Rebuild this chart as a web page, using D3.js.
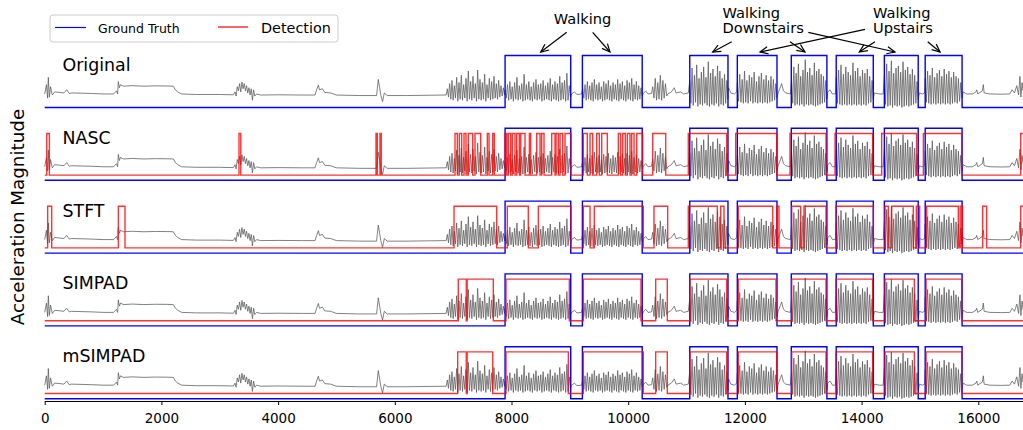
<!DOCTYPE html>
<html>
<head>
<meta charset="utf-8">
<script src="https://d3js.org/d3.v7.min.js"></script>
<style>
  body { margin: 0; background: #fff; }
  svg { font-family: "DejaVu Sans", sans-serif; }
</style>
</head>
<body>
<svg id="chart"></svg>
<script>
const width = 1023;
const height = 430;

// sample index range of the recording
const xMax = 16766;
const xTicks = [0, 2000, 4000, 6000, 8000, 10000, 12000, 14000, 16000];

const panelNames = ["Original", "NASC", "STFT", "SIMPAD", "mSIMPAD"];
const panelOffsets = [0, -7, -14, -21, -28];
const gtLevels = [0, 5];
const detLevels = [0.5, 4.5];

// labelled walking periods [start, end]
const groundTruth = [[7890, 9015], [9215, 10240], [11055, 11710], [11870, 12550],
  [12795, 13405], [13565, 14200], [14390, 14970], [15090, 15722]];

const nascDetections = [[35, 80], [3330, 3360], [5678, 5700], [5746, 5768],
  [7032, 7072], [7106, 7146], [7186, 7220], [7260, 7335], [7375, 7472], [7586, 7615], [7678, 7706],
  [7889, 7918], [7946, 7986], [8014, 8060], [8089, 8134], [8158, 8232], [8306, 8329], [8432, 8489],
  [8517, 8557], [8689, 8746], [8763, 8802], [8832, 8878], [8917, 9020],
  [9231, 9299], [9346, 9392], [9460, 9505], [9546, 9642], [9831, 9871], [9906, 9951], [9985, 10031],
  [10060, 10100], [10146, 10248], [10420, 10643], [11030, 11688], [11842, 12545], [12773, 13390],
  [13545, 14190], [14344, 14944], [15058, 15715], [16727, 16900]];

const stftDetections = [[51, 120], [1262, 1376], [7015, 7746], [7928, 8288], [8460, 9020],
  [9231, 9346], [9419, 10259], [10442, 10677], [11030, 11527], [11585, 11642], [11887, 12477],
  [12545, 12584], [12802, 12956], [13013, 13390], [13562, 14202], [14401, 14458], [14516, 14886],
  [14938, 14995], [15115, 15657], [15690, 15730], [16075, 16143], [16727, 16900]];

const simpadDetections = [[7088, 7225], [7240, 7688], [7906, 8991], [9231, 10219], [10471, 10670],
  [11059, 11688], [11887, 12533], [12802, 13390], [13562, 14190], [14401, 14904], [15105, 15715]];

const msimpadDetections = [[7078, 7225], [7240, 7678], [7906, 8974], [9231, 10259], [10471, 10670],
  [11059, 11688], [11887, 12545], [12802, 13390], [13562, 14190], [14401, 14904], [15105, 15715]];

const panelDetections = [null, nascDetections, stftDetections, simpadDetections, msimpadDetections];

// acceleration magnitude, quiet stretches [sample, value]
const quietTrace = [[0, 1.3], [30, 2.2], [50, 0.9], [62, 2.9], [80, 1.0], [100, 2.0], [130, 1.2],
  [170, 1.5], [263, 1.45], [330, 1.4], [377, 1.7], [420, 1.35], [460, 1.4], [800, 1.35], [1000, 1.3],
  [1180, 1.3], [1230, 1.6], [1250, 1.3], [1262, 2.5], [1280, 1.9], [1300, 2.2], [1347, 2.05],
  [1500, 2.1], [1700, 2.05], [1900, 2.08], [2100, 2.07], [2205, 2.05], [2240, 1.7], [2280, 1.5],
  [2347, 1.3], [2600, 1.25], [3000, 1.25], [3233, 1.22], [3262, 1.5], [3280, 1.1], [3300, 2.0],
  [3320, 1.6], [3340, 2.3], [3360, 1.5], [3380, 2.45], [3400, 1.8], [3420, 2.3], [3440, 1.6],
  [3460, 2.1], [3480, 1.4], [3500, 1.9], [3520, 1.2], [3540, 1.8], [3560, 0.7], [3580, 1.7],
  [3600, 1.1], [3633, 1.3], [3700, 1.2], [4000, 1.22], [4400, 1.2], [4633, 1.2], [4660, 1.7],
  [4690, 2.16], [4710, 1.7], [4760, 1.8], [4800, 1.45], [4900, 1.4], [5000, 1.2], [5400, 1.15],
  [5689, 1.15], [5700, 1.8], [5717, 2.7], [5740, 1.9], [5760, 1.2], [5790, 0.56], [5820, 1.4],
  [5870, 1.15], [6200, 1.15], [6600, 1.18], [6880, 1.2],
  [9030, 1.3], [9080, 1.5], [9120, 1.25], [9200, 1.3],
  [10260, 1.35], [10300, 1.6], [10340, 1.3], [10400, 1.35],
  [10680, 1.3], [10740, 1.5], [10790, 1.9], [10820, 1.4], [10900, 1.5], [10950, 1.3], [11030, 1.4],
  [11720, 1.9], [11760, 1.4], [11820, 1.3], [11860, 1.5],
  [12570, 1.4], [12610, 2.0], [12630, 2.3], [12660, 1.6], [12700, 1.4], [12780, 1.3],
  [13420, 1.5], [13460, 1.7], [13500, 1.3], [13550, 1.3],
  [14220, 1.4], [14300, 1.3], [14370, 1.3],
  [14990, 1.4], [15040, 1.3], [15080, 1.4],
  [15740, 1.5], [15800, 1.3], [15900, 1.3], [15960, 1.5], [15973, 1.7], [15990, 1.3], [16070, 1.6],
  [16086, 2.2], [16100, 1.4], [16200, 1.3], [16400, 1.28], [16540, 1.3], [16580, 1.7], [16620, 1.4],
  [16660, 2.1], [16690, 1.2], [16714, 3.0], [16730, 1.0], [16750, 2.4], [16766, 1.6]];

// active stretches: span and evenly sampled peak / trough values
const burstSpans = [[6900, 7880], [7890, 9010], [9220, 10240], [10420, 10660], [11055, 11710],
  [11870, 12550], [12800, 13405], [13565, 14200], [14390, 14970], [15090, 15720]];
const burstValues = [
  [1.8, 1.0, 2.3, 0.8, 2.6, 0.7, 2.1, 0.9, 2.9, 0.6, 2.4, 0.8, 3.1, 0.7, 2.2, 0.9, 2.8, 0.6, 3.5, 0.8,
   2.5, 0.7, 3.0, 0.9, 2.3, 0.6, 3.6, 0.8, 2.7, 0.7, 2.4, 0.8, 3.2, 0.6, 2.2, 0.9, 2.8, 0.7, 2.5, 0.8,
   3.0, 0.9, 2.3, 0.8, 2.6, 1.0, 2.1, 1.1, 1.9, 1.2],
  [1.7, 0.9, 2.2, 0.7, 2.5, 0.8, 2.0, 0.6, 2.4, 0.8, 2.9, 0.7, 2.1, 0.8, 2.3, 0.6, 3.2, 0.7, 2.2, 0.8,
   2.5, 0.7, 2.0, 0.6, 2.4, 0.8, 2.7, 0.7, 2.2, 0.8, 2.3, 0.6, 2.6, 0.7, 2.1, 0.8, 2.4, 0.7, 2.8, 0.6,
   2.2, 0.8, 2.5, 0.7, 2.3, 0.6, 3.0, 0.7, 2.4, 0.8, 2.6, 0.6, 3.3, 0.7, 2.1, 1.0],
  [1.8, 0.9, 2.2, 0.7, 2.5, 0.8, 2.1, 0.7, 2.4, 0.6, 2.7, 0.8, 2.2, 0.7, 2.4, 0.8, 2.0, 0.6, 2.5, 0.7,
   2.3, 0.8, 2.6, 0.7, 2.1, 0.6, 2.4, 0.8, 2.2, 0.7, 2.7, 0.6, 2.3, 0.8, 2.5, 0.7, 2.1, 0.6, 2.6, 0.8,
   2.4, 0.7, 2.8, 0.6, 2.2, 0.8, 2.5, 0.7, 2.1, 0.8, 1.9, 1.1],
  [2.0, 0.9, 2.8, 0.7, 2.4, 0.8, 3.1, 0.7, 2.6, 0.9, 2.3, 1.1],
  [2.6, 0.4, 3.8, 0.2, 3.1, 0.5, 4.1, 0.1, 2.8, 0.3, 3.4, 0.2, 3.9, 0.4, 2.9, 0.2, 4.4, 0.1, 3.3, 0.3,
   3.7, 0.2, 3.0, 0.4, 4.0, 0.1, 3.5, 0.3, 2.8, 0.2, 3.2, 0.4, 2.6, 0.8],
  [2.4, 0.6, 3.2, 0.5, 2.7, 0.4, 3.5, 0.5, 2.6, 0.4, 3.1, 0.6, 2.9, 0.4, 3.4, 0.5, 2.5, 0.4, 3.0, 0.5,
   3.3, 0.4, 2.7, 0.5, 3.1, 0.4, 2.6, 0.5, 3.0, 0.6, 2.7, 0.7, 2.3, 0.9],
  [2.7, 0.4, 3.9, 0.2, 3.3, 0.3, 4.2, 0.2, 3.0, 0.3, 3.6, 0.1, 4.6, 0.3, 3.4, 0.2, 3.8, 0.3, 3.1, 0.2,
   4.3, 0.1, 3.5, 0.2, 3.7, 0.3, 3.2, 0.4, 3.0, 0.5, 2.6, 0.8],
  [2.9, 0.4, 3.6, 0.3, 4.1, 0.2, 3.2, 0.3, 3.9, 0.2, 3.4, 0.3, 3.1, 0.2, 4.3, 0.3, 3.5, 0.2, 3.8, 0.3,
   3.0, 0.2, 3.6, 0.3, 3.3, 0.2, 3.7, 0.4, 3.0, 0.5, 2.6, 0.8],
  [3.0, 0.3, 4.2, 0.1, 3.5, 0.2, 4.5, 0.0, 3.3, 0.2, 3.8, 0.1, 4.0, 0.2, 3.4, 0.0, 4.4, 0.1, 3.6, 0.2,
   3.9, 0.1, 3.2, 0.2, 3.7, 0.3, 3.1, 0.4, 2.5, 0.8],
  [2.8, 0.5, 3.5, 0.4, 3.1, 0.3, 3.8, 0.4, 2.9, 0.3, 3.3, 0.4, 3.6, 0.3, 3.0, 0.4, 3.7, 0.3, 3.2, 0.4,
   3.5, 0.3, 2.9, 0.4, 3.4, 0.5, 3.0, 0.4, 2.8, 0.6, 2.4, 0.9]
];

const x = d3.scaleLinear().domain([0, xMax]).range([44.7, 1023]);
const y = d3.scaleLinear().domain([-28, 5]).range([398.7, 55.5]);

const svg = d3.select('#chart')
    .attr('width', width)
    .attr('height', height);

svg.append('rect').attr('width', width).attr('height', height).attr('fill', '#fff');

svg.append('defs').append('marker')
    .attr('id', 'arrow')
    .attr('viewBox', '-10 -6 12 12')
    .attr('markerWidth', 12)
    .attr('markerHeight', 12)
    .attr('markerUnits', 'userSpaceOnUse')
    .attr('refX', 0)
    .attr('refY', 0)
    .attr('orient', 'auto')
    .append('path')
        .attr('d', 'M-8,-3.6L0,0L-8,3.6')
        .attr('fill', 'none')
        .attr('stroke', '#000')
        .attr('stroke-width', 1.2);

// build the signal trace
let signal = quietTrace.slice();
burstSpans.forEach((span, i) => {
    const vals = burstValues[i];
    const step = (span[1] - span[0]) / (vals.length - 1);
    vals.forEach((v, j) => signal.push([span[0] + j * step, v]));
});
signal.sort((a, b) => a[0] - b[0]);

function stepPoints(intervals, lo, hi) {
    const pts = [[0, lo]];
    intervals.forEach(d => {
        pts.push([d[0], hi]);
        pts.push([d[1], lo]);
    });
    pts.push([xMax + 200, lo]);
    return pts;
}

panelNames.forEach((name, k) => {
    const off = panelOffsets[k];
    const g = svg.append('g').attr('class', 'panel');

    const sigLine = d3.line()
        .x(d => x(d[0]))
        .y(d => y(d[1] + off));

    g.append('path')
        .datum(signal)
        .attr('d', sigLine)
        .attr('fill', 'none')
        .attr('stroke', '#5a5a5a')
        .attr('stroke-opacity', 0.85)
        .attr('stroke-width', 0.9);

    const stepLine = d3.line()
        .x(d => x(d[0]))
        .y(d => y(d[1] + off))
        .curve(d3.curveStepAfter);

    g.append('path')
        .datum(stepPoints(groundTruth, gtLevels[0], gtLevels[1]))
        .attr('d', stepLine)
        .attr('fill', 'none')
        .attr('stroke', '#0000ff')
        .attr('stroke-width', 1.4);

    if (panelDetections[k]) {
        g.append('path')
            .datum(stepPoints(panelDetections[k], detLevels[0], detLevels[1]))
            .attr('d', stepLine)
            .attr('fill', 'none')
            .attr('stroke', '#ff0000')
            .attr('stroke-opacity', 0.8)
            .attr('stroke-width', 1.4);
    }

    g.append('text')
        .attr('x', 62.5)
        .attr('y', y(gtLevels[1] + off) + 15.5)
        .attr('font-size', '17.4px')
        .text(name);
});

// x axis
const xAxis = d3.axisBottom(x)
    .tickValues(xTicks)
    .tickFormat(d3.format('d'))
    .tickSize(4)
    .tickSizeOuter(0)
    .tickPadding(8);

const axisG = svg.append('g')
    .attr('transform', 'translate(0, 401)')
    .call(xAxis);
axisG.selectAll('text').attr('font-size', '13.5px').attr('font-family', '"DejaVu Sans", sans-serif').attr('fill', '#000');
axisG.select('.domain').attr('stroke', '#000');
axisG.selectAll('line').attr('stroke', '#000');

svg.append('text')
    .attr('transform', 'translate(24, 217) rotate(-90)')
    .attr('text-anchor', 'middle')
    .attr('font-size', '18.3px')
    .text('Acceleration Magnitude');

// legend
const legend = svg.append('g');
legend.append('rect')
    .attr('x', 50).attr('y', 15)
    .attr('width', 288).attr('height', 27)
    .attr('rx', 3)
    .attr('fill', '#fff')
    .attr('stroke', '#ccc');
legend.append('line')
    .attr('x1', 55).attr('x2', 86).attr('y1', 27.5).attr('y2', 27.5)
    .attr('stroke', '#0000ff').attr('stroke-width', 1.2);
legend.append('text')
    .attr('x', 98).attr('y', 33.2)
    .attr('font-size', '12.5px')
    .text('Ground Truth');
legend.append('line')
    .attr('x1', 218).attr('x2', 248).attr('y1', 27).attr('y2', 27)
    .attr('stroke', '#ff0000').attr('stroke-width', 1.2);
legend.append('text')
    .attr('x', 261).attr('y', 32.7)
    .attr('font-size', '14.4px')
    .text('Detection');

// annotations
const ann = svg.append('g').attr('font-size', '14.6px');
ann.append('text').attr('x', 582.5).attr('y', 24).attr('text-anchor', 'middle').text('Walking');
ann.append('text').attr('x', 722.5).attr('y', 17.5).text('Walking');
ann.append('text').attr('x', 722.5).attr('y', 33.3).text('Downstairs');
ann.append('text').attr('x', 873).attr('y', 17.5).text('Walking');
ann.append('text').attr('x', 873).attr('y', 33.3).text('Upstairs');

const arrowY = y(gtLevels[1]) - 3.5;
const arrows = [
    [566.7, 32.3, 8501], [592.7, 32.3, 9688],
    [731.7, 41.7, 11448], [790, 41.7, 13030], [808.3, 32.3, 14572],
    [865, 29.3, 12259], [875, 41.7, 13960], [927.7, 41.7, 15345]
];
ann.selectAll('.arrow')
    .data(arrows)
    .enter().append('line')
        .attr('class', 'arrow')
        .attr('x1', d => d[0])
        .attr('y1', d => d[1])
        .attr('x2', d => x(d[2]))
        .attr('y2', arrowY)
        .attr('stroke', '#000')
        .attr('stroke-width', 1.2)
        .attr('marker-end', 'url(#arrow)');
</script>
</body>
</html>
